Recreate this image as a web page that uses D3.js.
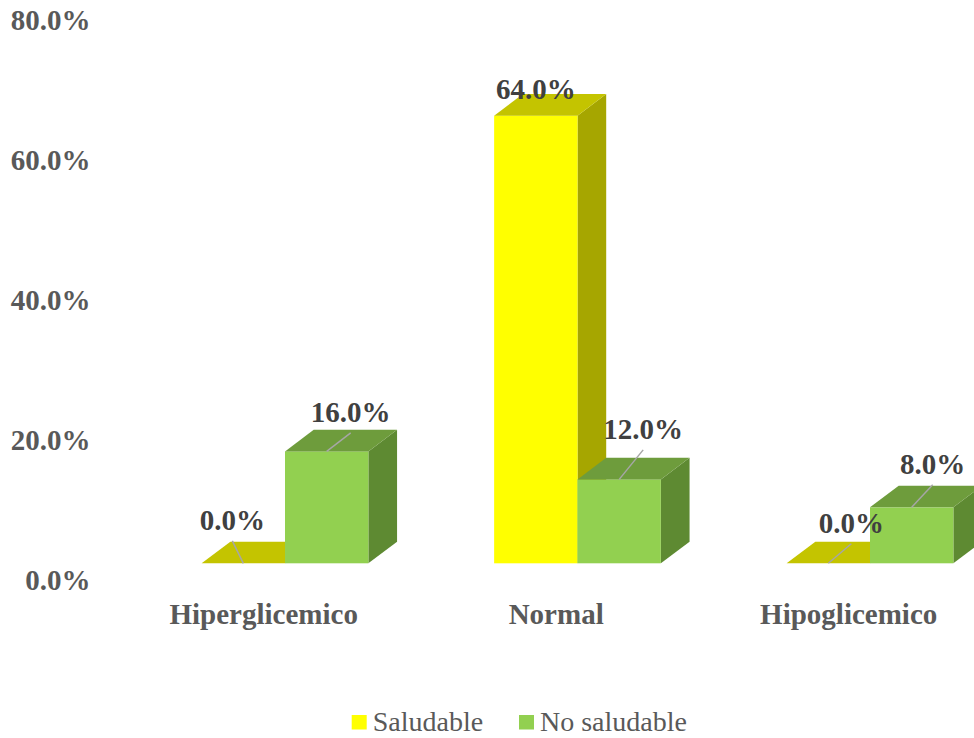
<!DOCTYPE html>
<html>
<head>
<meta charset="utf-8">
<script src="https://cdn.jsdelivr.net/npm/d3@7"></script>
<style>
  html, body { margin: 0; padding: 0; background: #fff; }
  svg { display: block; }
</style>
</head>
<body>
<svg id="chart" width="974" height="738"></svg>
<script>
// ---- data ----
const categories = ["Hiperglicemico", "Normal", "Hipoglicemico"];
const seriesNames = ["Saludable", "No saludable"];
const saludable = [0.0, 64.0, 0.0];
const noSaludable = [16.0, 12.0, 8.0];
const yTicks = [0, 20, 40, 60, 80];

// ---- layout / style (not data) ----
const frontColors = ["#FFFF00", "#92D050"];
const topColors = ["#C4C400", "#6E9C3C"];
const sideColors = ["#A6A600", "#5E8A32"];
const depthX = 28.7, depthY = -21.6;
const FONT = "'Liberation Serif','Times New Roman',Times,serif";
// label offsets [dx, dy-to-baseline, leader] relative to front-top-centre of each bar
const labelOffsets = [
  [[-11, -33, true], [24, -29, true]],
  [[0, -16.4, false], [24, -40, true]],
  [[23, -30, true], [21, -33, true]]
];

const svg = d3.select("#chart");
const values = [saludable, noSaludable];

const y = d3.scaleLinear().domain([0, 80]).range([563.3, 3.8]);
const x0 = d3.scaleBand().domain(categories).range([138.75, 1016.25])
  .paddingInner(0.43).paddingOuter(0.215);
const x1 = d3.scaleBand().domain(seriesNames).range([0, x0.bandwidth()]);

// y axis labels
const yAxis = d3.axisLeft(y).tickValues(yTicks)
  .tickFormat(d => d3.format(".1f")(d) + "%").tickSize(0).tickPadding(0);
const gy = svg.append("g").attr("transform", "translate(90.5,0)").call(yAxis);
gy.select(".domain").remove();
gy.selectAll("text")
  .attr("font-family", FONT)
  .attr("font-weight", "bold").attr("font-size", 29).attr("fill", "#595959")
  .attr("dy", null).attr("y", 25.7);

// bars
const gBars = svg.append("g");
categories.forEach((cat, ci) => {
  seriesNames.forEach((s, si) => {
    const v = values[si][ci];
    const xl = x0(cat) + x1(s);
    const xr = xl + x1.bandwidth();
    const yt = y(v), yb = y(0);
    const g = gBars.append("g");
    if (v > 0) {
      g.append("path")
        .attr("d", `M${xr},${yb} L${xr + depthX},${yb + depthY} L${xr + depthX},${yt + depthY} L${xr},${yt} Z`)
        .attr("fill", sideColors[si]);
      g.append("rect").attr("x", xl).attr("y", yt).attr("width", xr - xl).attr("height", yb - yt)
        .attr("fill", frontColors[si]);
    }
    g.append("path")
      .attr("d", `M${xl},${yt} L${xr},${yt} L${xr + depthX},${yt + depthY} L${xl + depthX},${yt + depthY} Z`)
      .attr("fill", topColors[si]);
  });
});

// data labels
const gLab = svg.append("g");
categories.forEach((cat, ci) => {
  seriesNames.forEach((s, si) => {
    const v = values[si][ci];
    const cx = x0(cat) + x1(s) + x1.bandwidth() / 2;
    const cy = y(v);
    const [dx, dy, leader] = labelOffsets[ci][si];
    const lx = cx + dx, ly = cy + dy;
    if (leader) {
      gLab.append("line").attr("x1", cx).attr("y1", cy).attr("x2", lx).attr("y2", ly + 10.5)
        .attr("stroke", "#A6A6A6").attr("stroke-width", 1.5);
    }
    gLab.append("text").attr("x", lx).attr("y", ly)
      .attr("text-anchor", "middle")
      .attr("font-family", FONT)
      .attr("font-weight", "bold").attr("font-size", 29).attr("fill", "#404040")
      .text(d3.format(".1f")(v) + "%");
  });
});

// category labels
const gx = svg.append("g");
categories.forEach(cat => {
  gx.append("text")
    .attr("x", x0(cat) + x0.bandwidth() / 2 - 21.3)
    .attr("y", 624.3)
    .attr("text-anchor", "middle")
    .attr("font-family", FONT)
    .attr("font-weight", "bold").attr("font-size", 29).attr("fill", "#595959")
    .text(cat);
});

// legend
const legendX = [351.7, 519];
const gLeg = svg.append("g");
seriesNames.forEach((s, i) => {
  gLeg.append("rect").attr("x", legendX[i]).attr("y", 715).attr("width", 15).attr("height", 14.5)
    .attr("fill", frontColors[i]);
  gLeg.append("text").attr("x", legendX[i] + 21).attr("y", 731)
    .attr("font-family", FONT)
    .attr("font-size", 28).attr("fill", "#595959")
    .text(s);
});
</script>
</body>
</html>
